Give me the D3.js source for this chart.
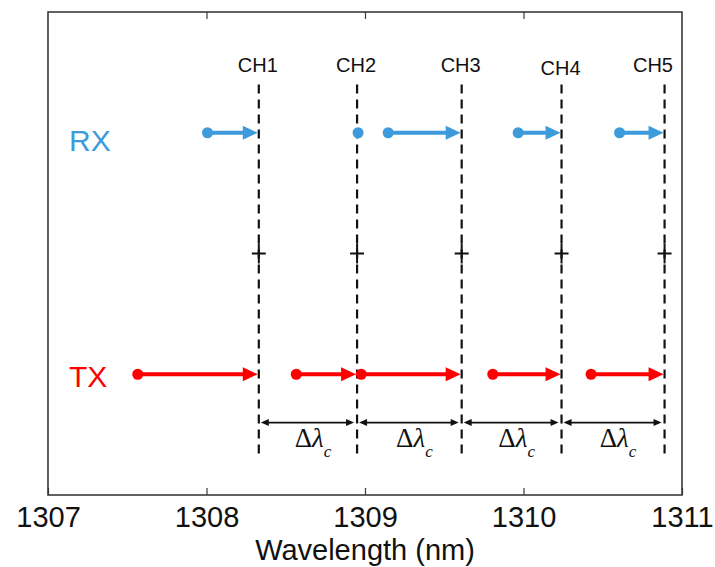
<!DOCTYPE html>
<html>
<head>
<meta charset="utf-8">
<script src="https://cdn.jsdelivr.net/npm/d3@7"></script>
<style>
  html, body { margin: 0; padding: 0; background: #fff; }
  svg { display: block; }
</style>
</head>
<body>
<svg id="chart" width="715" height="567"></svg>
<script>
// ---- data ----
const channels = ["CH1", "CH2", "CH3", "CH4", "CH5"];
const channelWl = [1308.33, 1308.95, 1309.61, 1310.24, 1310.89];
const rxStart = [1308.00, 1308.95, 1309.14, 1309.96, 1310.60];
const rxEnd   = [1308.33, 1308.95, 1309.61, 1310.24, 1310.89];
const txStart = [1307.56, 1308.56, 1308.97, 1309.80, 1310.42];
const txEnd   = [1308.33, 1308.95, 1309.61, 1310.24, 1310.89];
const xTicks = [1307, 1308, 1309, 1310, 1311];
const rowLabels = ["RX", "TX"];
const rowLevels = [3, 1];      // RX row, TX row on y scale
const crossLevel = 2;
const deltaLevel = 0.6;
const xTitle = "Wavelength (nm)";

// ---- layout ----
const svg = d3.select("#chart");
const L = 48, R = 682, T = 12, B = 495;
const x = d3.scaleLinear().domain([1307, 1311]).range([L, R]);
const y = d3.scaleLinear().domain([0, 4]).range([B, T]);
const blue = "#3d9bdc", red = "#ff0000";

// frame
svg.append("rect").attr("x", L).attr("y", T).attr("width", R - L).attr("height", B - T)
  .attr("fill", "none").attr("stroke", "#3a3a3a").attr("stroke-width", 1.6);

// bottom axis
const xAxis = d3.axisBottom(x).tickValues(xTicks).tickFormat(d3.format("d"))
  .tickSizeInner(-7).tickSizeOuter(0).tickPadding(16);
const gx = svg.append("g").attr("transform", `translate(0,${B})`).call(xAxis);
gx.select(".domain").remove();
gx.selectAll(".tick line").attr("stroke", "#3a3a3a").attr("stroke-width", 1.2);
gx.selectAll(".tick text").attr("font-family", "Liberation Sans, Arial, sans-serif")
  .attr("font-size", 29).attr("fill", "#111").attr("dy", "0.55em");

// top axis ticks
const xAxisTop = d3.axisTop(x).tickValues(xTicks.slice(1, -1)).tickFormat("")
  .tickSizeInner(-7).tickSizeOuter(0);
const gt = svg.append("g").attr("transform", `translate(0,${T})`).call(xAxisTop);
gt.select(".domain").remove();
gt.selectAll(".tick line").attr("stroke", "#3a3a3a").attr("stroke-width", 1.2);

// axis title
svg.append("text").attr("x", (L + R) / 2).attr("y", 560).attr("text-anchor", "middle")
  .attr("font-family", "Liberation Sans, Arial, sans-serif").attr("font-size", 29)
  .attr("fill", "#111").text(xTitle);

// channel dashed lines
svg.append("g").selectAll("line").data(channelWl).join("line")
  .attr("x1", d => x(d)).attr("x2", d => x(d))
  .attr("y1", y(3.4)).attr("y2", y(0.33))
  .attr("stroke", "#111").attr("stroke-width", 2.2).attr("stroke-dasharray", "9,6");

// channel labels
svg.append("g").selectAll("text").data(channels).join("text")
  .attr("x", (d, i) => Math.min(x(channelWl[i]) - 1, R - 29))
  .attr("y", (d, i) => y(3.4) - 12 + (i === 3 ? 3 : 0))
  .attr("text-anchor", "middle")
  .attr("font-family", "Liberation Sans, Arial, sans-serif").attr("font-size", 20)
  .attr("fill", "#111").text(d => d);

// crosses
const gc = svg.append("g");
channelWl.forEach(d => {
  gc.append("line").attr("x1", x(d) - 7).attr("x2", x(d) + 7).attr("y1", y(crossLevel)).attr("y2", y(crossLevel))
    .attr("stroke", "#111").attr("stroke-width", 2);
  gc.append("line").attr("x1", x(d)).attr("x2", x(d)).attr("y1", y(crossLevel) - 10).attr("y2", y(crossLevel) + 10)
    .attr("stroke", "#111").attr("stroke-width", 2);
});

// arrows
function drawArrows(starts, ends, level, color) {
  const g = svg.append("g");
  const yy = y(level);
  starts.forEach((s, i) => {
    const x0 = x(s), x1 = x(ends[i]) - 1;
    if (x1 - x0 > 8) {
      const head = 15, hw = 7;
      g.append("line").attr("x1", x0).attr("x2", x1 - head + 2).attr("y1", yy).attr("y2", yy)
        .attr("stroke", color).attr("stroke-width", 4);
      g.append("path").attr("d", `M${x1},${yy} L${x1 - head},${yy - hw} L${x1 - head},${yy + hw} Z`)
        .attr("fill", color);
    }
    g.append("circle").attr("cx", x0 + 1).attr("cy", yy).attr("r", 5.5).attr("fill", color);
  });
}
drawArrows(rxStart, rxEnd, rowLevels[0], blue);
drawArrows(txStart, txEnd, rowLevels[1], red);

// row labels
svg.append("g").selectAll("text").data(rowLabels).join("text")
  .attr("x", 69).attr("y", (d, i) => y(rowLevels[i]) + (i === 0 ? 18 : 13))
  .attr("font-family", "Liberation Sans, Arial, sans-serif").attr("font-size", 30)
  .attr("fill", (d, i) => i === 0 ? blue : red).text(d => d);

// delta lambda arrows
const gd = svg.append("g");
const yd = y(deltaLevel);
d3.pairs(channelWl).forEach(([a, b]) => {
  const x0 = x(a) + 2, x1 = x(b) - 3, h = 8, hw = 3.5;
  gd.append("line").attr("x1", x0 + 3).attr("x2", x1 - 3).attr("y1", yd).attr("y2", yd)
    .attr("stroke", "#111").attr("stroke-width", 1.8);
  gd.append("path").attr("d", `M${x0},${yd} L${x0 + h},${yd - hw} L${x0 + h},${yd + hw} Z`).attr("fill", "#111");
  gd.append("path").attr("d", `M${x1},${yd} L${x1 - h},${yd - hw} L${x1 - h},${yd + hw} Z`).attr("fill", "#111");
  const t = gd.append("text").attr("x", (x(a) + x(b)) / 2 + 5).attr("y", yd + 24)
    .attr("text-anchor", "middle").attr("font-family", "Liberation Serif, Times New Roman, serif")
    .attr("font-size", 27).attr("fill", "#111");
  t.append("tspan").text("Δ");
  t.append("tspan").attr("font-style", "italic").text("λ");
  t.append("tspan").attr("font-style", "italic").attr("font-size", 17).attr("dy", 10).text("c");
});
</script>
</body>
</html>
